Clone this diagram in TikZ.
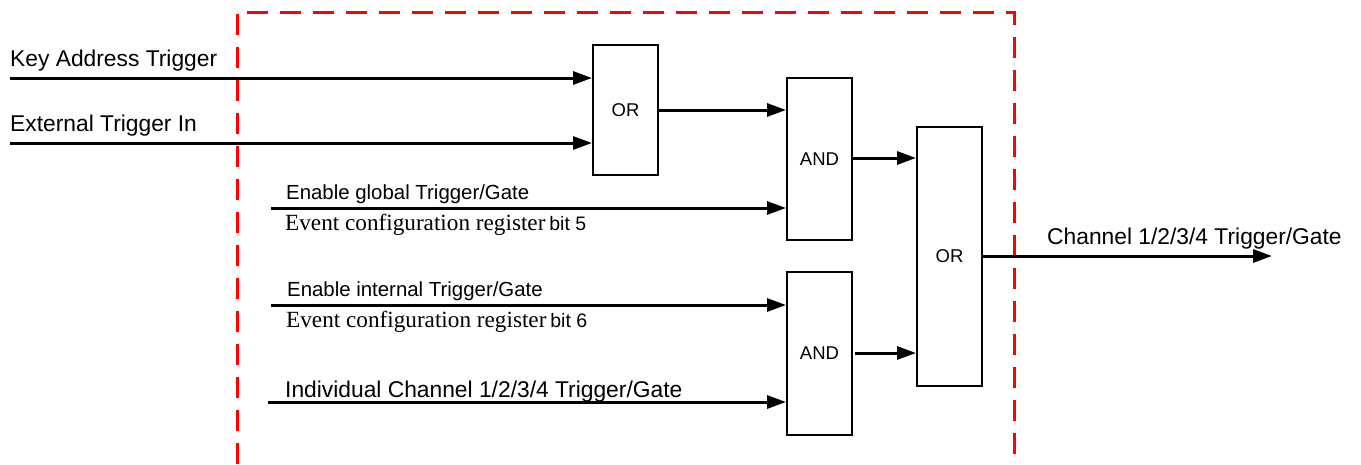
\documentclass[tikz,border=0pt]{standalone}
\usepackage{fontspec}
\setmainfont{Liberation Sans}
\newfontfamily\regfont{Liberation Serif}
\usetikzlibrary{arrows.meta}

\tikzset{
  gate/.style={draw=black, line width=2pt, fill=white, minimum width=65pt,
    inner sep=0pt, font=\fontsize{18.5}{20}\selectfont},
  sig/.style={line width=3pt, -{Triangle[length=19pt,width=13pt]}},
  biglabel/.style={inner sep=0pt, anchor=base west, font=\fontsize{22.8}{26}\selectfont},
  enlabel/.style={inner sep=0pt, anchor=base west, font=\fontsize{20.4}{24}\selectfont},
  reglabel/.style={inner sep=0pt, anchor=base west, font=\fontsize{23.2}{26}\regfont},
  frame/.style={draw=red, line width=3pt, dash pattern=on 21pt off 12pt}
}

\begin{document}
\begin{tikzpicture}[x=1pt, y=-1pt]
  \useasboundingbox (0,0) rectangle (1361,464);

  % trigger block boundary (open at the bottom)
  \draw[frame] (237,464) -- (237,12) -- (1014,12) -- (1014,464);

  % logic gates
  \node[gate, minimum height=130pt] (or1)  at (625.5,110)   {OR};
  \node[gate, minimum height=162pt] (and1) at (819.5,159)   {AND};
  \node[gate, minimum height=163pt] (and2) at (819.5,353.5) {AND};
  \node[gate, minimum height=259pt] (or2)  at (949.5,256.5) {OR};

  % signal sources and sink
  \coordinate (key) at (10,78);
  \coordinate (ext) at (10,143);
  \coordinate (eng) at (271,208);
  \coordinate (eni) at (271,305);
  \coordinate (ind) at (268,402);
  \coordinate (out) at (1272,256);

  % connections
  \draw[sig] (key) -- (key -| or1.west);
  \draw[sig] (ext) -- (ext -| or1.west);
  \draw[sig] (or1.east) -- (or1.east -| and1.west);
  \draw[sig] (eng) -- (eng -| and1.west);
  \draw[sig] (eni) -- (eni -| and2.west);
  \draw[sig] (ind) -- (ind -| and2.west);
  \draw[sig] (and1.east |- 0,158) -- (or2.west |- 0,158);
  \draw[sig] ([xshift=2pt]and2.east |- 0,353) -- (or2.west |- 0,353);
  \draw[sig] (or2.east |- out) -- (out);

  % signal labels
  \node[biglabel] (lkey) at (10,66)  {Key Address Trigger};
  \node[biglabel] (lext) at (10,131) {External Trigger In};
  \node[enlabel]  (leng) at (286,199) {Enable global Trigger/Gate};
  \node[reglabel] (lrg5) at (285,230) {Event configuration register\,{\fontsize{19.5}{22}\rmfamily bit 5}};
  \node[enlabel]  (leni) at (287,296) {Enable internal Trigger/Gate};
  \node[reglabel] (lrg6) at (286,327) {Event configuration register\,{\fontsize{19.5}{22}\rmfamily bit 6}};
  \node[biglabel] (lind) at (285,397) {Individual Channel 1/2/3/4 Trigger/Gate};
  \node[biglabel] (lout) at (1047,244) {Channel 1/2/3/4 Trigger/Gate};
\end{tikzpicture}
\end{document}
